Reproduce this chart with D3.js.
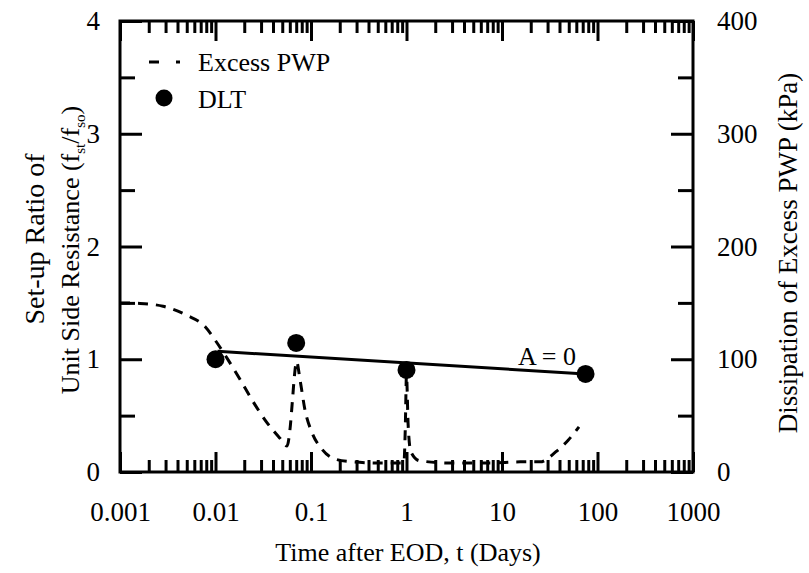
<!DOCTYPE html>
<html>
<head>
<meta charset="utf-8">
<script src="https://cdn.jsdelivr.net/npm/d3@7"></script>
<style>
  body { margin: 0; background: #fff; }
  svg text { font-family: "Liberation Serif", "Times New Roman", serif; fill: #000; }
</style>
</head>
<body>
<svg id="chart" width="809" height="573"></svg>
<script>
// DLT set-up ratios
const dltTime = [0.01, 0.07, 1, 75];
const dltRatio = [1.0, 1.145, 0.905, 0.87];

// fitted line (A = 0)
const fitTime = [0.0105, 75];
const fitRatio = [1.07, 0.87];

// excess pore water pressure dissipation, kPa
const pwpTime = [0.001, 0.00162, 0.00282, 0.005, 0.00776, 0.0099, 0.0132, 0.0181, 0.0241, 0.0338,
  0.0473, 0.0561, 0.0601, 0.064, 0.0672, 0.0706, 0.0767, 0.0865, 0.1024, 0.131, 0.178, 0.27,
  0.53, 0.94, 0.97, 1.0, 1.04, 1.11, 1.37, 2.85, 7.4, 15.5, 25, 36.7, 49, 64];
const pwpKpa = [150, 149.5, 147, 139, 129, 117, 101, 82, 64, 45,
  30, 23, 37, 64, 86, 98, 82, 55, 35, 20, 11.5, 9,
  8, 8, 37, 86, 42, 18, 10, 8, 8, 9, 9, 18, 28, 40];

const xMajor = [0.001, 0.01, 0.1, 1, 10, 100, 1000];
const xLabels = ['0.001', '0.01', '0.1', '1', '10', '100', '1000'];
const yLeftMajor = [0, 1, 2, 3, 4];
const yLeftMinor = [0.5, 1.5, 2.5, 3.5];
const yRightMajor = [0, 100, 200, 300, 400];
const yRightMinor = [50, 150, 250, 350];

const margin = {top: 21, left: 120};
const width = 573;
const height = 451;

const svg = d3.select('#chart');
const g = svg.append('g')
.attr('transform', `translate(${margin.left}, ${margin.top})`);

const x = d3.scaleLog().domain([0.001, 1000]).range([0, width]);
const yL = d3.scaleLinear().domain([0, 4]).range([height, 0]);
const yR = d3.scaleLinear().domain([0, 400]).range([height, 0]);

const xMinor = [];
xMajor.slice(0, -1).forEach(d => {
  for (let k = 2; k <= 9; k++) xMinor.push(d * k);
});

const tickFont = '27px';

function styleAxis(sel) {
  sel.attr('font-family', null);
  sel.select('.domain').remove();
  sel.selectAll('.tick line').attr('stroke', '#000').attr('stroke-width', 3);
  sel.selectAll('.tick text').style('font-size', tickFont);
}

// bottom
g.append('g')
.attr('transform', `translate(0, ${height})`)
.call(d3.axisBottom(x).tickValues(xMajor).tickSizeInner(-20).tickSizeOuter(0)
  .tickPadding(30).tickFormat((d, i) => xLabels[i]))
.call(styleAxis);
g.append('g')
.attr('transform', `translate(0, ${height})`)
.call(d3.axisBottom(x).tickValues(xMinor).tickSizeInner(-12).tickSizeOuter(0).tickFormat(''))
.call(styleAxis);

// top
g.append('g')
.call(d3.axisTop(x).tickValues(xMajor).tickSizeInner(-20).tickSizeOuter(0).tickFormat(''))
.call(styleAxis);
g.append('g')
.call(d3.axisTop(x).tickValues(xMinor).tickSizeInner(-12).tickSizeOuter(0).tickFormat(''))
.call(styleAxis);

// left
g.append('g')
.call(d3.axisLeft(yL).tickValues(yLeftMajor).tickSizeInner(-22).tickSizeOuter(0)
  .tickPadding(20).tickFormat(d3.format('d')))
.call(styleAxis);
g.append('g')
.call(d3.axisLeft(yL).tickValues(yLeftMinor).tickSizeInner(-15).tickSizeOuter(0).tickFormat(''))
.call(styleAxis);

// right
g.append('g')
.attr('transform', `translate(${width}, 0)`)
.call(d3.axisRight(yR).tickValues(yRightMajor).tickSizeInner(-22).tickSizeOuter(0)
  .tickPadding(24).tickFormat(d3.format('d')))
.call(styleAxis);
g.append('g')
.attr('transform', `translate(${width}, 0)`)
.call(d3.axisRight(yR).tickValues(yRightMinor).tickSizeInner(-15).tickSizeOuter(0).tickFormat(''))
.call(styleAxis);

// frame
g.append('rect')
.attr('width', width)
.attr('height', height)
.attr('fill', 'none')
.attr('stroke', '#000')
.attr('stroke-width', 3);

// pwp dashed curve
const pwp = pwpTime.map((t, i) => ({t: t, v: pwpKpa[i]}));
const pwpLine = d3.line()
.x(d => x(d.t))
.y(d => yR(d.v))
.curve(d3.curveMonotoneX);

g.append('path')
.datum(pwp)
.attr('d', pwpLine)
.attr('fill', 'none')
.attr('stroke', '#000')
.attr('stroke-width', 3)
.attr('stroke-dasharray', '10,8');

// fit line
g.append('line')
.attr('x1', x(fitTime[0])).attr('y1', yL(fitRatio[0]))
.attr('x2', x(fitTime[1])).attr('y2', yL(fitRatio[1]))
.attr('stroke', '#000')
.attr('stroke-width', 3);

// DLT points
g.selectAll('circle.dlt')
.data(dltTime.map((t, i) => ({t: t, r: dltRatio[i]})))
.enter()
.append('circle')
.attr('class', 'dlt')
.attr('cx', d => x(d.t))
.attr('cy', d => yL(d.r))
.attr('r', 9)
.attr('fill', '#000');

g.append('text')
.attr('x', 398)
.attr('y', 344)
.style('font-size', '26px')
.text('A = 0');

// legend
svg.append('line')
.attr('x1', 149).attr('y1', 62).attr('x2', 181).attr('y2', 62)
.attr('stroke', '#000')
.attr('stroke-width', 3)
.attr('stroke-dasharray', '10,17,4');
svg.append('text')
.attr('x', 198).attr('y', 71)
.style('font-size', '26px')
.text('Excess PWP');
svg.append('circle')
.attr('cx', 164).attr('cy', 98)
.attr('r', 8.5)
.attr('fill', '#000');
svg.append('text')
.attr('x', 198).attr('y', 108)
.style('font-size', '26px')
.text('DLT');

// axis titles
svg.append('text')
.attr('x', 408)
.attr('y', 561)
.attr('text-anchor', 'middle')
.style('font-size', '26px')
.text('Time after EOD, t (Days)');

svg.append('text')
.attr('transform', 'translate(44, 239) rotate(-90)')
.attr('text-anchor', 'middle')
.style('font-size', '28px')
.text('Set-up Ratio of');

const t2 = svg.append('text')
.attr('transform', 'translate(79, 250) rotate(-90)')
.attr('text-anchor', 'middle')
.style('font-size', '26px');
t2.append('tspan').text('Unit Side Resistance (f');
t2.append('tspan').attr('dy', 6).style('font-size', '15px').text('st');
t2.append('tspan').attr('dy', -6).text('/f');
t2.append('tspan').attr('dy', 6).style('font-size', '15px').text('so');
t2.append('tspan').attr('dy', -6).text(')');

svg.append('text')
.attr('transform', 'translate(797, 253) rotate(-90)')
.attr('text-anchor', 'middle')
.style('font-size', '27px')
.text('Dissipation of Excess PWP (kPa)');
</script>
</body>
</html>
